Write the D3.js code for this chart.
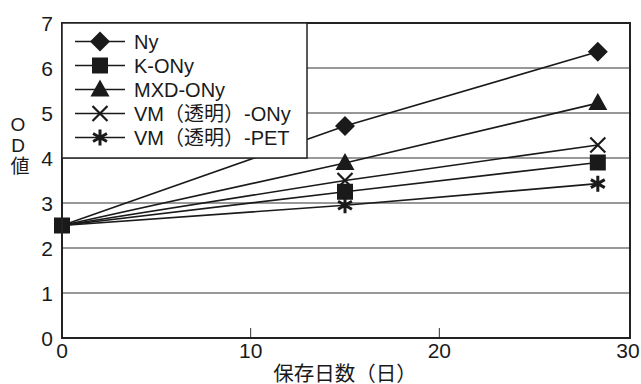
<!DOCTYPE html>
<html><head><meta charset="utf-8">
<script src="https://cdn.jsdelivr.net/npm/d3@7"></script>
<style>
body{margin:0;background:#fff;}
text{font-family:"Liberation Sans","Noto Sans CJK JP",Arial,sans-serif;fill:#1a1a1a;}
</style></head><body>
<svg id="c" width="641" height="384"></svg>
<script>
const days = [0, 15, 28.4];
const seriesNames = ["Ny", "K-ONy", "MXD-ONy", "VM（透明）-ONy", "VM（透明）-PET"];
const seriesSymbols = ["diamond", "square", "triangle", "cross", "asterisk"];
const nyValues = [2.5, 4.71, 6.36];
const kOnyValues = [2.5, 3.25, 3.9];
const mxdValues = [2.5, 3.89, 5.22];
const vmOnyValues = [2.5, 3.5, 4.29];
const vmPetValues = [2.5, 2.95, 3.43];
const xTicks = [0, 10, 20, 30];
const yTicks = [0, 1, 2, 3, 4, 5, 6, 7];
const xTitle = "保存日数（日）";
const yTitle = "OD値";

const values = [nyValues, kOnyValues, mxdValues, vmOnyValues, vmPetValues];
const series = seriesNames.map((n, i) => ({name: n, sym: seriesSymbols[i],
  pts: days.map((d, j) => ({x: d, y: values[i][j]}))}));

const svg = d3.select("#c");
const L = 62, R = 630, T = 23, B = 338;
const x = d3.scaleLinear().domain([0, 30]).range([L, 628]);
const y = d3.scaleLinear().domain([0, 7]).range([B, T]);
const ink = "#1a1a1a";

// grid
svg.append("g").selectAll("line").data(yTicks.filter(t => t > 0 && t < 7)).join("line")
  .attr("x1", L).attr("x2", R).attr("y1", d => y(d)).attr("y2", d => y(d))
  .attr("stroke", "#333").attr("stroke-width", 1.2);

// x ticks (inward)
svg.append("g").selectAll("line").data(xTicks.filter(t => t > 0 && t < 30)).join("line")
  .attr("x1", d => x(d)).attr("x2", d => x(d)).attr("y1", B).attr("y2", B - 10)
  .attr("stroke", "#333").attr("stroke-width", 1);

// lines
const line = d3.line().x(d => x(d.x)).y(d => y(d.y));
svg.append("g").selectAll("path").data(series).join("path")
  .attr("d", d => line(d.pts)).attr("fill", "none").attr("stroke", ink).attr("stroke-width", 1.6);

function drawSymbol(g, sym, cx, cy) {
  if (sym === "diamond") {
    g.append("path").attr("d", `M${cx},${cy-10}L${cx+10},${cy}L${cx},${cy+10}L${cx-10},${cy}Z`).attr("fill", ink);
  } else if (sym === "square") {
    g.append("rect").attr("x", cx-8).attr("y", cy-8).attr("width", 16).attr("height", 16).attr("fill", ink);
  } else if (sym === "triangle") {
    g.append("path").attr("d", `M${cx},${cy-10}L${cx+9.5},${cy+7}L${cx-9.5},${cy+7}Z`).attr("fill", ink);
  } else if (sym === "cross") {
    g.append("path").attr("d", `M${cx-7.5},${cy-7.5}L${cx+7.5},${cy+7.5}M${cx+7.5},${cy-7.5}L${cx-7.5},${cy+7.5}`)
      .attr("stroke", ink).attr("stroke-width", 2.2);
  } else if (sym === "asterisk") {
    const r = 8, p = [];
    for (let k = 0; k < 3; k++) {
      const a = Math.PI / 2 + k * Math.PI / 3;
      p.push(`M${cx + r*Math.cos(a)},${cy + r*Math.sin(a)}L${cx - r*Math.cos(a)},${cy - r*Math.sin(a)}`);
    }
    g.append("path").attr("d", p.join("")).attr("stroke", ink).attr("stroke-width", 3);
  }
}

// markers (shared start point drawn once, with the K-ONy square)
const mg = svg.append("g");
series.forEach(s => s.pts.forEach(p => { if (p.x > 0) drawSymbol(mg, s.sym, x(p.x), y(p.y)); }));
drawSymbol(mg, "square", x(series[1].pts[0].x), y(series[1].pts[0].y));

// frame
svg.append("path").attr("d", `M${L},${T}H${R}V${B}H${L}Z`).attr("fill", "none").attr("stroke", "#222").attr("stroke-width", 2);

// legend
const lg = svg.append("g");
lg.append("rect").attr("x", L).attr("y", T).attr("width", 245).attr("height", y(4) - T)
  .attr("fill", "#fff").attr("stroke", "#222").attr("stroke-width", 1.5);
series.forEach((s, i) => {
  const cy = 41.5 + i * 24;
  lg.append("line").attr("x1", 75).attr("x2", 125).attr("y1", cy).attr("y2", cy).attr("stroke", ink).attr("stroke-width", 1.6);
  drawSymbol(lg, s.sym, 100, cy);
  lg.append("text").attr("x", 134).attr("y", cy + 7).attr("font-size", 20).text(s.name);
});

// axis labels
svg.append("g").selectAll("text").data(yTicks).join("text")
  .attr("x", 53).attr("y", d => y(d) + 7.5).attr("text-anchor", "end").attr("font-size", 21).text(d => d);
svg.append("g").selectAll("text").data(xTicks).join("text")
  .attr("x", d => x(d)).attr("y", 358).attr("text-anchor", "middle").attr("font-size", 21).text(d => d);

svg.append("text").attr("x", 345).attr("y", 381).attr("text-anchor", "middle").attr("font-size", 20.5)
  .attr("font-family", "Noto Sans CJK JP").text(xTitle);
svg.append("text").attr("x", 18).attr("y", 114).attr("font-size", 19)
  .style("writing-mode", "vertical-rl").style("text-orientation", "upright")
  .attr("font-family", "Liberation Sans, Noto Sans CJK JP").text(yTitle);
</script></body></html>
